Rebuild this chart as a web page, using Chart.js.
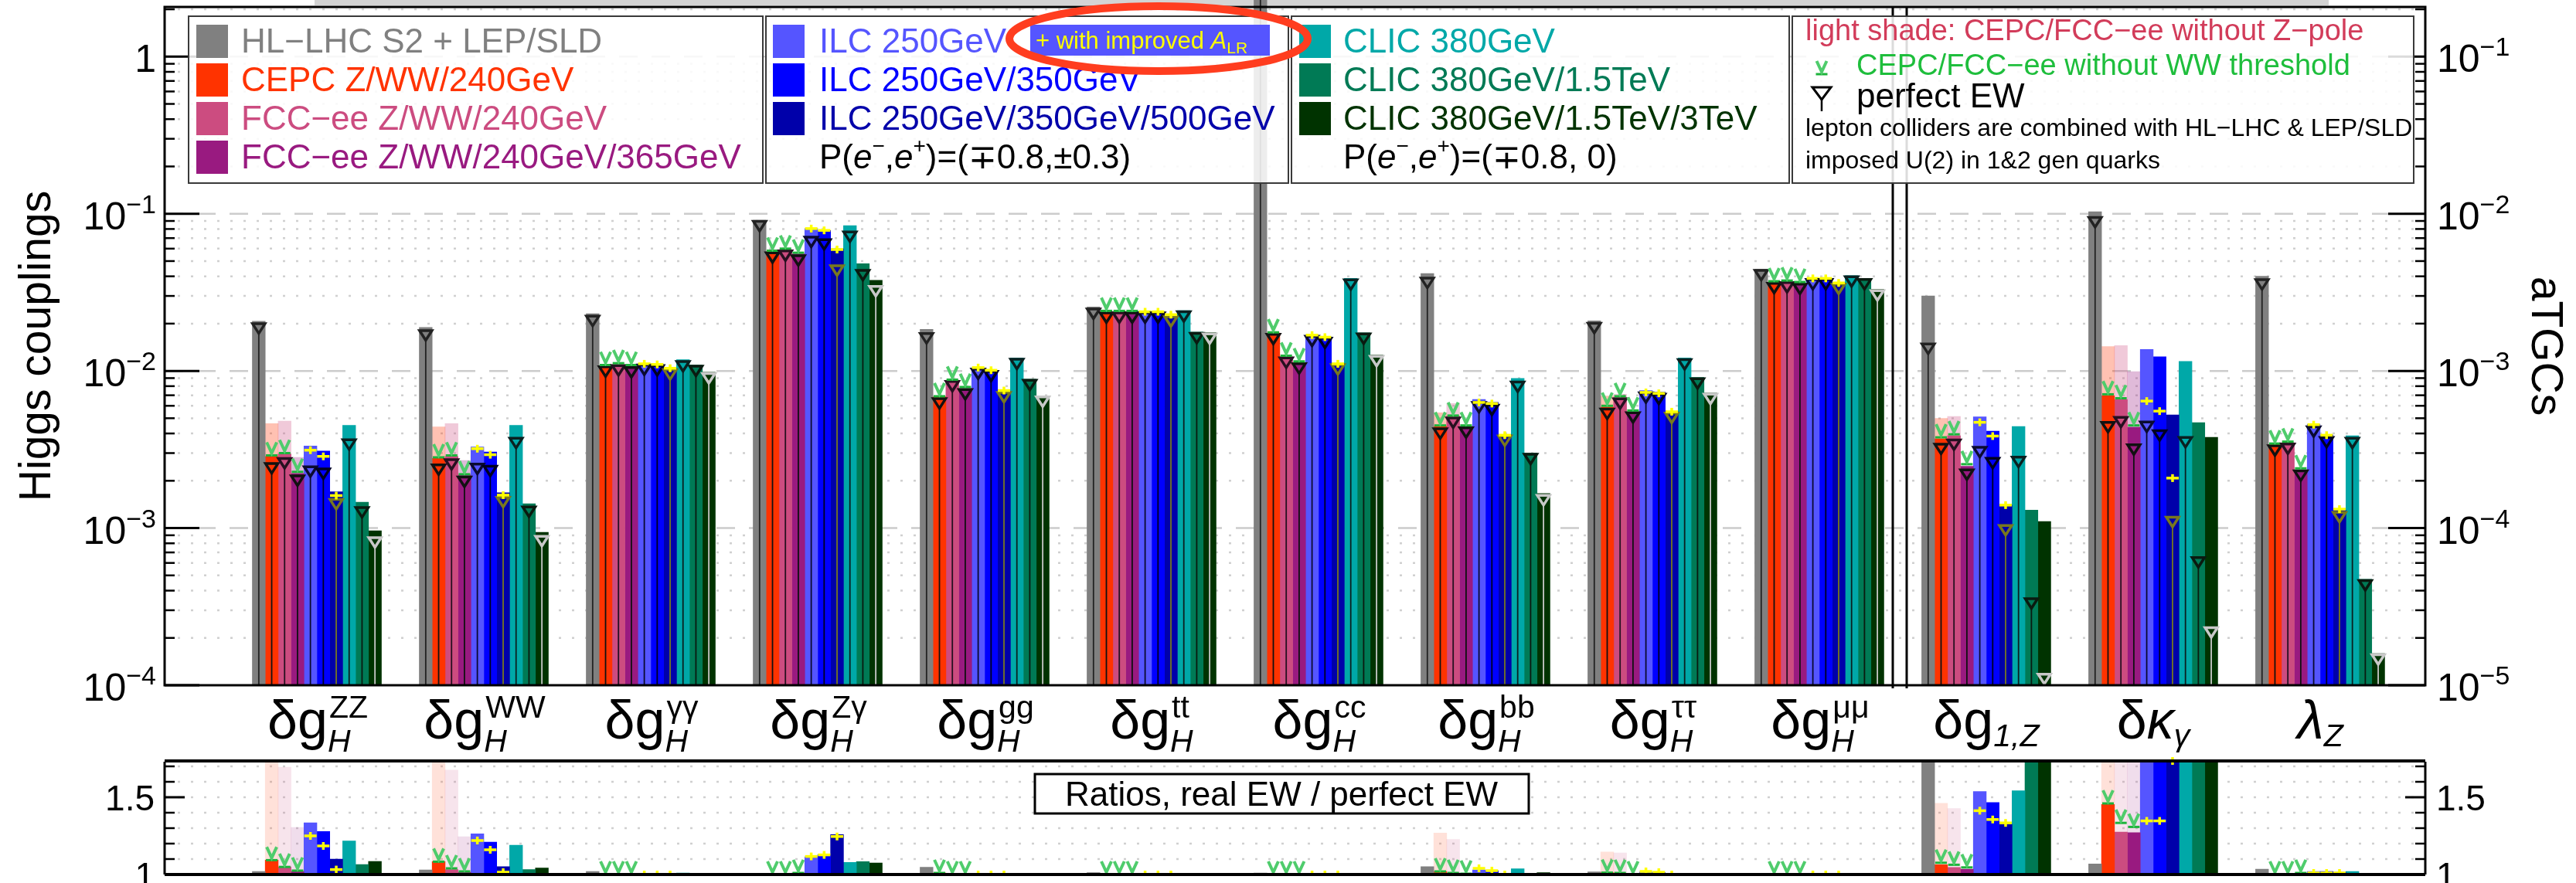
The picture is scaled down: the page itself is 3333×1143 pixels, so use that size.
<!DOCTYPE html>
<html>
<head>
<meta charset="utf-8">
<script src="https://cdn.jsdelivr.net/npm/chart.js@4/dist/chart.umd.min.js"></script>
<style>
  html, body { margin: 0; padding: 0; background: #fff; }
  #wrap { position: relative; width: 3333px; height: 1143px; overflow: hidden; }
  canvas { position: absolute; left: 0; top: 0; }
</style>
</head>
<body>
<div id="wrap">
  <canvas id="main" width="3333" height="1143"></canvas>
  <canvas id="ratio" width="3333" height="1143"></canvas>
</div>
<script>
// categories: 10 Higgs couplings, then 3 aTGCs (aTGCs are read on the right axis)
var categories = ['ZZ', 'WW', 'γγ', 'Zγ', 'gg', 'tt', 'cc', 'bb', 'ττ', 'μμ', 'g1Z', 'κγ', 'λZ'];
var tickMain = ['δg', 'δg', 'δg', 'δg', 'δg', 'δg', 'δg', 'δg', 'δg', 'δg', 'δg', 'δκ', 'λ'];
var tickSup = ['ZZ', 'WW', 'γγ', 'Zγ', 'gg', 'tt', 'cc', 'bb', 'ττ', 'μμ', '', '', ''];
var tickSub = ['H', 'H', 'H', 'H', 'H', 'H', 'H', 'H', 'H', 'H', '1,Z', 'γ', 'Z'];

var series = ['HL−LHC S2 + LEP/SLD', 'CEPC Z/WW/240GeV', 'FCC−ee Z/WW/240GeV', 'FCC−ee Z/WW/240GeV/365GeV',
  'ILC 250GeV', 'ILC 250GeV/350GeV', 'ILC 250GeV/350GeV/500GeV',
  'CLIC 380GeV', 'CLIC 380GeV/1.5TeV', 'CLIC 380GeV/1.5TeV/3TeV'];

// precision reach
var hllhc    = [0.0207, 0.0189, 0.0231, 0.0910, 0.0184, 0.0255, 3.0, 0.0416, 0.0208, 0.0444, 3.0e-3, 1.03e-2, 4.0e-3];
var cepc     = [0.00286, 0.00278, 0.0108, 0.0574, 0.00684, 0.0238, 0.0174, 0.00444, 0.00588, 0.0367, 3.7e-4, 6.95e-4, 3.4e-4];
var fcc240   = [0.00296, 0.00286, 0.0110, 0.0591, 0.00873, 0.0238, 0.0123, 0.00516, 0.0068, 0.0371, 3.87e-4, 6.57e-4, 3.49e-4];
var fcc365   = [0.00223, 0.00218, 0.0107, 0.0556, 0.00775, 0.0238, 0.0113, 0.00444, 0.00551, 0.0363, 2.47e-4, 4.38e-4, 2.35e-4];
var ilc250   = [0.00333, 0.00328, 0.0111, 0.0805, 0.01045, 0.0238, 0.0169, 0.00659, 0.0075, 0.0388, 5.1e-4, 1.37e-3, 4.58e-4];
var ilc350   = [0.00309, 0.00305, 0.0110, 0.0784, 0.0101, 0.0238, 0.01645, 0.00631, 0.00733, 0.0388, 4.14e-4, 1.23e-3, 3.91e-4];
var ilc500   = [0.0017, 0.00168, 0.01035, 0.0598, 0.00743, 0.0225, 0.01114, 0.00394, 0.00551, 0.0363, 1.40e-4, 5.25e-4, 1.30e-4];
var clic380  = [0.00451, 0.00451, 0.0118, 0.0841, 0.0121, 0.0242, 0.0388, 0.00897, 0.0121, 0.0404, 4.43e-4, 1.15e-3, 3.87e-4];
var clic1500 = [0.00146, 0.00143, 0.0109, 0.0481, 0.00887, 0.01766, 0.01747, 0.0030, 0.00908, 0.0388, 1.30e-4, 4.69e-4, 4.72e-5];
var clic3000 = [0.00096, 0.00094, 0.0098, 0.0377, 0.00695, 0.0175, 0.01261, 0.00166, 0.00723, 0.0330, 1.10e-4, 3.78e-4, 1.59e-5];

// real EW / perfect EW
var hllhcRatio    = [1.020, 1.029, 1.019, 1.000, 1.047, 1.012, 1.010, 1.051, 1.017, 1.000, 1.99, 1.068, 1.034];
var cepcRatio     = [1.093, 1.083, 1.000, 1.000, 1.010, 1.000, 1.000, 1.020, 1.012, 1.000, 1.063, 1.453, 1.000];
var fcc240Ratio   = [1.049, 1.032, 1.000, 1.000, 1.000, 1.000, 1.000, 1.010, 1.005, 1.000, 1.046, 1.275, 1.000];
var fcc365Ratio   = [1.020, 1.015, 1.000, 1.010, 1.000, 1.000, 1.000, 1.005, 1.000, 1.000, 1.034, 1.271, 1.000];
var ilc250Ratio   = [1.334, 1.263, 1.000, 1.114, 1.000, 1.000, 1.000, 1.030, 1.017, 1.000, 1.537, 2.85, 1.020];
var ilc350Ratio   = [1.278, 1.210, 1.000, 1.127, 1.000, 1.000, 1.000, 1.024, 1.012, 1.000, 1.466, 2.90, 1.020];
var ilc500Ratio   = [1.100, 1.051, 1.000, 1.258, 1.000, 1.000, 1.000, 1.005, 1.005, 1.000, 1.325, 4.40, 1.015];
var clic380Ratio  = [1.217, 1.190, 1.010, 1.078, 1.003, 1.000, 1.005, 1.037, 1.007, 1.000, 1.542, 3.00, 1.020];
var clic1500Ratio = [1.064, 1.032, 1.000, 1.083, 1.000, 1.000, 1.000, 1.000, 1.000, 1.000, 3.60, 7.10, 1.000];
var clic3000Ratio = [1.085, 1.042, 1.000, 1.075, 1.000, 1.000, 1.000, 1.012, 1.000, 1.000, 9.20, 16.0, 1.000];

// CEPC / FCC-ee without Z-pole (light shade)
var cepcNoZ   = [0.00462, 0.00441, null, null, null, null, null, 0.00542, 0.00692, null, 4.99e-4, 1.43e-3, null];
var fcc240NoZ = [0.0048, 0.00462, null, null, null, null, null, 0.00621, 0.0071, null, 5.13e-4, 1.45e-3, null];
var fcc365NoZ = [0.00282, 0.00269, null, null, null, null, null, null, null, null, null, 9.9e-4, null];
var cepcNoZRatio   = [1.77, 1.75, null, null, null, null, null, 1.268, 1.146, null, 1.461, 3.0, null];
var fcc240NoZRatio = [1.695, 1.676, null, null, null, null, null, 1.227, 1.139, null, 1.427, 2.9, null];
var fcc365NoZRatio = [1.305, 1.244, null, null, null, null, null, null, null, null, null, 2.84, null];

// CEPC / FCC-ee without WW threshold
var cepcNoWW   = [0.0029, 0.00282, 0.0109, 0.0582, 0.0069, 0.0241, 0.0176, 0.0045, 0.0060, 0.0372, 3.78e-4, 7.1e-4, 3.45e-4];
var fcc240NoWW = [0.0030, 0.0029, 0.0112, 0.0600, 0.0088, 0.0241, 0.0125, 0.0052, 0.0069, 0.0376, 3.95e-4, 6.7e-4, 3.55e-4];
var fcc365NoWW = [0.00228, 0.0022, 0.0109, 0.0565, 0.0079, 0.0241, 0.0115, 0.0045, 0.0056, 0.0368, 2.55e-4, 4.5e-4, 2.4e-4];
var cepcNoWWRatio   = [1.093, 1.083, 1.0, 1.0, 1.01, 1.0, 1.0, 1.02, 1.012, 1.0, 1.076, 1.46, 1.0];
var fcc240NoWWRatio = [1.049, 1.04, 1.0, 1.0, 1.0, 1.0, 1.0, 1.01, 1.01, 1.0, 1.063, 1.334, 1.0];
var fcc365NoWWRatio = [1.025, 1.02, 1.0, 1.01, 1.0, 1.0, 1.0, 1.005, 1.0, 1.0, 1.046, 1.308, 1.01];

// ILC with improved A_LR
var ilc250ALR = [0.00313, 0.0032, 0.0111, 0.0805, 0.0105, 0.0238, 0.0169, 0.0063, 0.0073, 0.0388, 4.71e-4, 6.43e-4, 4.55e-4];
var ilc350ALR = [0.00286, 0.00293, 0.0110, 0.0784, 0.0101, 0.0238, 0.0164, 0.0062, 0.0072, 0.0388, 3.85e-4, 5.55e-4, 3.9e-4];
var ilc500ALR = [0.00161, 0.00162, 0.0104, 0.0592, 0.0075, 0.0228, 0.0111, 0.0039, 0.0055, 0.0363, 1.40e-4, 2.08e-4, 1.32e-4];
var ilc250ALRRatio = [1.25, 1.22, 1.0, 1.117, 1.0, 1.0, 1.0, 1.04, 1.02, 1.0, 1.413, 1.347, 1.01];
var ilc350ALRRatio = [1.185, 1.16, 1.0, 1.127, 1.0, 1.0, 1.0, 1.025, 1.015, 1.0, 1.356, 1.347, 1.01];
var ilc500ALRRatio = [1.032, 1.015, 1.0, 1.246, 1.0, 1.0, 1.0, 1.0, 1.0, 1.0, 1.334, 1.735, 1.01];

var values = [hllhc, cepc, fcc240, fcc365, ilc250, ilc350, ilc500, clic380, clic1500, clic3000];
var ratios = [hllhcRatio, cepcRatio, fcc240Ratio, fcc365Ratio, ilc250Ratio, ilc350Ratio, ilc500Ratio, clic380Ratio, clic1500Ratio, clic3000Ratio];
var noZ = [null, cepcNoZ, fcc240NoZ, fcc365NoZ, null, null, null, null, null, null];
var noZRatio = [null, cepcNoZRatio, fcc240NoZRatio, fcc365NoZRatio, null, null, null, null, null, null];
var noWW = [null, cepcNoWW, fcc240NoWW, fcc365NoWW, null, null, null, null, null, null];
var noWWRatio = [null, cepcNoWWRatio, fcc240NoWWRatio, fcc365NoWWRatio, null, null, null, null, null, null];
var alr = [null, null, null, null, ilc250ALR, ilc350ALR, ilc500ALR, null, null, null];
var alrRatio = [null, null, null, null, ilc250ALRRatio, ilc350ALRRatio, ilc500ALRRatio, null, null, null];

var barColors = ['#808080', '#ff3300', '#cc4c80', '#991a80', '#5555ff', '#0000ff', '#0000aa', '#00a8a8', '#007a55', '#003300'];
var stemColors = ['#222222', '#111111', '#261020', '#111111', '#0a0a30', '#000022', '#78781e', '#0a2020', '#0a1a10', '#c8c8c8'];

var ATGC_FROM = 10;   // first aTGC category
var ATGC_SHIFT = 10;  // right axis sits one decade below the left one
var XMIN = -0.912, XMAX = 12.63;
var BAR_W = 16.7;
var FONT = '"Liberation Sans", Helvetica, Arial, sans-serif';

function onLeft(v, i) { return i >= ATGC_FROM ? v * ATGC_SHIFT : v; }
function same(v) { return v; }

function rgba(hex, a) {
  var n = parseInt(hex.slice(1), 16);
  return 'rgba(' + (n >> 16) + ',' + ((n >> 8) & 255) + ',' + (n & 255) + ',' + a + ')';
}

function points(vals, conv) {
  return categories.map(function (c, i) {
    var v = vals ? vals[i] : null;
    return { x: i, y: v == null ? null : conv(v, i) };
  });
}

// one slot per collider: the light shade shares the slot (stack) of its bar
function barSets(main, shade, conv, shadeAlpha, unclipGray) {
  var sets = [];
  main.forEach(function (vals, k) {
    var ds = { data: points(vals, conv), backgroundColor: barColors[k], stack: 's' + k, order: 1, barThickness: BAR_W };
    if (unclipGray && k === 0) ds.clip = false;
    sets.push(ds);
  });
  shade.forEach(function (vals, k) {
    sets.push({ data: points(vals, conv), backgroundColor: rgba(barColors[k], shadeAlpha), stack: 's' + k, order: 2, barThickness: BAR_W });
  });
  return sets;
}

// ---------- drawing helpers ----------
function font(size, italic) { return (italic ? 'italic ' : '') + size + 'px ' + FONT; }

function runsWidth(ctx, runs) {
  var w = 0;
  runs.forEach(function (r) { ctx.font = font(r.size, r.italic); w += ctx.measureText(r.t).width; });
  return w;
}

function drawRuns(ctx, runs, x, y, color) {
  ctx.fillStyle = color;
  ctx.textAlign = 'left';
  ctx.textBaseline = 'alphabetic';
  runs.forEach(function (r) {
    ctx.font = font(r.size, r.italic);
    ctx.fillText(r.t, x, y + (r.dy || 0));
    x += ctx.measureText(r.t).width;
  });
  return x;
}

function line(ctx, x1, y1, x2, y2) {
  ctx.beginPath(); ctx.moveTo(x1, y1); ctx.lineTo(x2, y2); ctx.stroke();
}

function greenMark(ctx, x, y) {
  ctx.setLineDash([]);
  ctx.strokeStyle = '#1db33b'; ctx.lineWidth = 3;
  line(ctx, x - 7.5, y, x + 7.5, y);
  ctx.strokeStyle = '#4fcc6c'; ctx.lineWidth = 4;
  ctx.beginPath(); ctx.moveTo(x - 6.5, y - 17); ctx.lineTo(x, y - 3); ctx.lineTo(x + 6.5, y - 17); ctx.stroke();
}

function yellowMark(ctx, x, y) {
  ctx.setLineDash([]);
  ctx.strokeStyle = '#ffff00'; ctx.lineWidth = 3.5;
  line(ctx, x - 8, y, x + 8, y);
  line(ctx, x, y - 5, x, y + 5);
}

function drawMarkers(chart, opt) {
  var ctx = chart.ctx, ys = chart.scales.y, a = chart.chartArea;
  ctx.save();
  ctx.beginPath(); ctx.rect(a.left, a.top - 20, a.right - a.left, a.bottom - a.top + 20); ctx.clip();
  for (var k = 0; k < values.length; k++) {
    var meta = chart.getDatasetMeta(k);
    meta.data.forEach(function (el, i) {
      var x = el.x;
      if (opt.perfect) {
        // perfect EW = real / ratio, open triangle with a stem to the axis
        var yp = ys.getPixelForValue(onLeft(values[k][i] / ratios[k][i], i));
        ctx.setLineDash([]);
        ctx.strokeStyle = stemColors[k];
        ctx.lineWidth = 1.8;
        line(ctx, x, yp + 14, x, a.bottom);
        ctx.lineWidth = 3.5;
        ctx.beginPath(); ctx.moveTo(x - 8, yp + 1.5); ctx.lineTo(x + 8, yp + 1.5); ctx.lineTo(x, yp + 14); ctx.closePath(); ctx.stroke();
      }
      var g = opt.green[k], yl = opt.yellow[k];
      if (g && g[i] != null) greenMark(ctx, x, ys.getPixelForValue(opt.conv(g[i], i)));
      if (yl && yl[i] != null) yellowMark(ctx, x, ys.getPixelForValue(opt.conv(yl[i], i)));
    });
  }
  ctx.restore();
}

function powerLabel(exp) {
  if (exp === 0) return [{ t: '1', size: 50 }];
  return [{ t: '10', size: 50 }, { t: '−' + (-exp), size: 34, dy: -21 }];
}

function polRuns(tail) {
  return [{ t: 'P(', size: 44 }, { t: 'e', size: 44, italic: true }, { t: '−', size: 28, dy: -20 }, { t: ',', size: 44 },
    { t: 'e', size: 44, italic: true }, { t: '+', size: 28, dy: -20 }, { t: ')=(' + tail + ')', size: 44 }];
}

function drawLegend(ctx) {
  var boxes = [[244, 987], [991, 1667], [1671, 2315], [2319, 3123]];
  boxes.forEach(function (b) {
    ctx.fillStyle = 'rgba(255,255,255,0.86)';
    ctx.fillRect(b[0], 21, b[1] - b[0], 216);
    ctx.setLineDash([]);
    ctx.strokeStyle = '#3a3a3a'; ctx.lineWidth = 2;
    ctx.strokeRect(b[0], 21, b[1] - b[0], 216);
  });
  var cols = [{ sw: 254, tx: 312, items: [0, 1, 2, 3] }, { sw: 1000, tx: 1060, items: [4, 5, 6] }, { sw: 1681, tx: 1738, items: [7, 8, 9] }];
  cols.forEach(function (c) {
    c.items.forEach(function (k, r) {
      ctx.fillStyle = barColors[k];
      ctx.fillRect(c.sw, 32 + 50 * r, 41, 43);
      drawRuns(ctx, [{ t: series[k], size: 44 }], c.tx, 68 + 50 * r, barColors[k]);
    });
  });
  drawRuns(ctx, polRuns('∓0.8,±0.3'), 1060, 218, '#000');
  drawRuns(ctx, polRuns('∓0.8, 0'), 1738, 218, '#000');

  // improved A_LR badge
  ctx.fillStyle = '#5555ff';
  ctx.fillRect(1333, 32, 310, 40);
  drawRuns(ctx, [{ t: '+ with improved ', size: 31 }, { t: 'A', size: 31, italic: true }, { t: 'LR', size: 21, dy: 6 }], 1340, 63, '#ffff00');

  // notes box
  drawRuns(ctx, [{ t: 'light shade: CEPC/FCC−ee without Z−pole', size: 38 }], 2336, 52, '#d23c5a');
  greenMark(ctx, 2357, 96);
  drawRuns(ctx, [{ t: 'CEPC/FCC−ee without WW threshold', size: 38 }], 2402, 97, '#1ebe3c');
  ctx.strokeStyle = '#000'; ctx.lineWidth = 3;
  ctx.beginPath(); ctx.moveTo(2345, 113); ctx.lineTo(2369, 113); ctx.lineTo(2357, 129); ctx.closePath(); ctx.stroke();
  ctx.lineWidth = 2.5;
  line(ctx, 2357, 129, 2357, 144);
  drawRuns(ctx, [{ t: 'perfect EW', size: 44 }], 2402, 139, '#000');
  drawRuns(ctx, [{ t: 'lepton colliders are combined with HL−LHC & LEP/SLD', size: 32 }], 2336, 176, '#000');
  drawRuns(ctx, [{ t: 'imposed U(2) in 1&2 gen quarks', size: 32 }], 2336, 218, '#000');

  // highlight ring
  ctx.strokeStyle = '#ff3d1f'; ctx.lineWidth = 10;
  ctx.beginPath(); ctx.ellipse(1499, 50, 193, 42, 0, 0, Math.PI * 2); ctx.stroke();
}

// ---------- main panel ----------
var mainPanel = {
  id: 'mainPanel',
  beforeDatasetsDraw: function (chart) {
    var ctx = chart.ctx, a = chart.chartArea, ys = chart.scales.y;
    ctx.save();
    ctx.fillStyle = '#d4d4d4';
    ctx.fillRect(407, 0, 2606, 7);
    for (var d = -4; d <= 0; d++) {
      for (var m = 1; m <= 9; m++) {
        var v = m * Math.pow(10, d);
        if (v <= ys.min * 1.001 || v > ys.max) continue;
        var y = ys.getPixelForValue(v);
        ctx.setLineDash(m === 1 ? [24, 18] : [3, 14]);
        ctx.strokeStyle = m === 1 ? '#cccccc' : '#d0d0d0';
        ctx.lineWidth = 2.5;
        line(ctx, a.left, y, a.right, y);
      }
    }
    ctx.restore();
  },
  afterDatasetsDraw: function (chart) {
    drawMarkers(chart, { perfect: true, green: noWW, yellow: alr, conv: onLeft });
  },
  afterDraw: function (chart) {
    var ctx = chart.ctx, a = chart.chartArea, ys = chart.scales.y, yr = chart.scales.y2, xs = chart.scales.x;
    ctx.save();
    ctx.setLineDash([]);
    ctx.strokeStyle = '#000';

    // Higgs | aTGC separator
    ctx.lineWidth = 3;
    line(ctx, 2449, a.top, 2449, a.bottom + 4);
    line(ctx, 2467, a.top, 2467, a.bottom + 4);

    // frame
    ctx.lineWidth = 3;
    ctx.strokeRect(a.left, a.top, a.right - a.left, a.bottom - a.top);

    // ticks, left axis then right axis
    var d, m, v, y;
    for (d = -4; d <= 0; d++) {
      for (m = 1; m <= 9; m++) {
        v = m * Math.pow(10, d);
        if (v > ys.max) continue;
        y = ys.getPixelForValue(v);
        ctx.lineWidth = m === 1 ? 3 : 2.5;
        line(ctx, a.left, y, a.left + (m === 1 ? 45 : 13), y);
      }
      y = ys.getPixelForValue(Math.pow(10, d));
      var lr = powerLabel(d);
      drawRuns(ctx, lr, 202 - runsWidth(ctx, lr), y + 20, '#000');
    }
    for (d = -5; d <= -1; d++) {
      for (m = 1; m <= 9; m++) {
        v = m * Math.pow(10, d);
        if (v > yr.max) continue;
        y = yr.getPixelForValue(v);
        ctx.strokeStyle = '#000';
        ctx.lineWidth = m === 1 ? 3 : 2.5;
        line(ctx, a.right - (m === 1 ? 48 : 13), y, a.right, y);
      }
      y = yr.getPixelForValue(Math.pow(10, d));
      drawRuns(ctx, powerLabel(d), 3153, y + 20, '#000');
    }

    // axis titles
    ctx.fillStyle = '#000';
    ctx.font = font(57);
    ctx.textAlign = 'center';
    ctx.textBaseline = 'alphabetic';
    ctx.save(); ctx.translate(65, (a.top + a.bottom) / 2); ctx.rotate(-Math.PI / 2); ctx.fillText('Higgs couplings', 0, 0); ctx.restore();
    ctx.save(); ctx.translate(3276, (a.top + a.bottom) / 2); ctx.rotate(Math.PI / 2); ctx.fillText('aTGCs', 0, 0); ctx.restore();

    // category labels
    categories.forEach(function (c, i) {
      var mainRuns = tickMain[i].split('').map(function (ch) { return { t: ch, size: 70, italic: 'κλ'.indexOf(ch) >= 0 }; });
      var sup = [{ t: tickSup[i], size: 41 }];
      var sub = [{ t: tickSub[i], size: 41, italic: true }];
      var wm = runsWidth(ctx, mainRuns);
      var ws = Math.max(runsWidth(ctx, sup), runsWidth(ctx, sub));
      var x0 = xs.getPixelForValue(i) - (wm + ws) / 2;
      var base = 956;
      var x1 = drawRuns(ctx, mainRuns, x0, base, '#000');
      drawRuns(ctx, sup, x1 + 2, base - 27, '#000');
      drawRuns(ctx, sub, x1, base + (i >= ATGC_FROM ? 10 : 17), '#000');
    });

    drawLegend(ctx);
    ctx.restore();
  }
};

// ---------- ratio panel ----------
var ratioPanel = {
  id: 'ratioPanel',
  beforeDatasetsDraw: function (chart) {
    var ctx = chart.ctx, a = chart.chartArea, ys = chart.scales.y;
    ctx.save();
    ctx.setLineDash([3, 14]);
    ctx.strokeStyle = '#d0d0d0';
    ctx.lineWidth = 2.5;
    for (var t = 1; t <= 7; t++) {
      var y = ys.getPixelForValue(1 + t / 10);
      line(ctx, a.left, y, a.right, y);
    }
    ctx.restore();
  },
  afterDatasetsDraw: function (chart) {
    drawMarkers(chart, { perfect: false, green: noWWRatio, yellow: alrRatio, conv: same });
  },
  afterDraw: function (chart) {
    var ctx = chart.ctx, a = chart.chartArea, ys = chart.scales.y;
    ctx.save();
    ctx.setLineDash([]);
    ctx.strokeStyle = '#000';
    ctx.lineWidth = 3;
    line(ctx, a.left, a.top, a.left, a.bottom);
    line(ctx, a.right, a.top, a.right, a.bottom);
    ctx.lineWidth = 4;
    line(ctx, a.left, a.top - 1, a.right, a.top - 1);
    line(ctx, a.left, a.bottom, a.right, a.bottom);
    for (var t = 0; t <= 7; t++) {
      var y = ys.getPixelForValue(1 + t / 10);
      var len = t === 5 ? 26 : 13;
      ctx.lineWidth = t === 5 ? 3 : 2.5;
      line(ctx, a.left, y, a.left + len, y);
      line(ctx, a.right - len, y, a.right, y);
    }
    [1, 1.5].forEach(function (v) {
      var y = ys.getPixelForValue(v);
      var r = [{ t: String(v), size: 46 }];
      drawRuns(ctx, r, 200 - runsWidth(ctx, r), y + 17, '#000');
      drawRuns(ctx, r, 3152, y + 17, '#000');
    });
    // caption box
    ctx.fillStyle = '#fff';
    ctx.fillRect(1339, 1002, 639, 51);
    ctx.lineWidth = 3;
    ctx.strokeRect(1339, 1002, 639, 51);
    ctx.fillStyle = '#000';
    ctx.font = font(44);
    ctx.textAlign = 'center';
    ctx.fillText('Ratios, real EW / perfect EW', 1658, 1043);
    ctx.restore();
  }
};

function baseOptions(padding, yScale) {
  return {
    responsive: false,
    animation: false,
    devicePixelRatio: 1,
    layout: { padding: padding },
    plugins: { legend: { display: false }, tooltip: { enabled: false } },
    scales: {
      // stacked index axis: bars sharing a stack id share a slot
      x: { type: 'linear', min: XMIN, max: XMAX, offset: false, stacked: true, display: false },
      y: yScale
    }
  };
}

var mainOptions = baseOptions({ left: 213, right: 195, top: 9, bottom: 256 },
  { type: 'logarithmic', min: 1e-4, max: 2.07, stacked: false, display: false });
mainOptions.scales.y2 = { type: 'logarithmic', min: 1e-5, max: 0.207, display: false, position: 'right' };

new Chart(document.getElementById('main'), {
  type: 'bar',
  data: { datasets: barSets(values, noZ, onLeft, 0.3, true) },
  options: mainOptions,
  plugins: [mainPanel]
});

new Chart(document.getElementById('ratio'), {
  type: 'bar',
  data: { datasets: barSets(ratios, noZRatio, same, 0.15, false) },
  options: baseOptions({ left: 213, right: 195, top: 986, bottom: 11 },
    { type: 'linear', min: 1, max: 1.73, stacked: false, display: false }),
  plugins: [ratioPanel]
});
</script>
</body>
</html>
